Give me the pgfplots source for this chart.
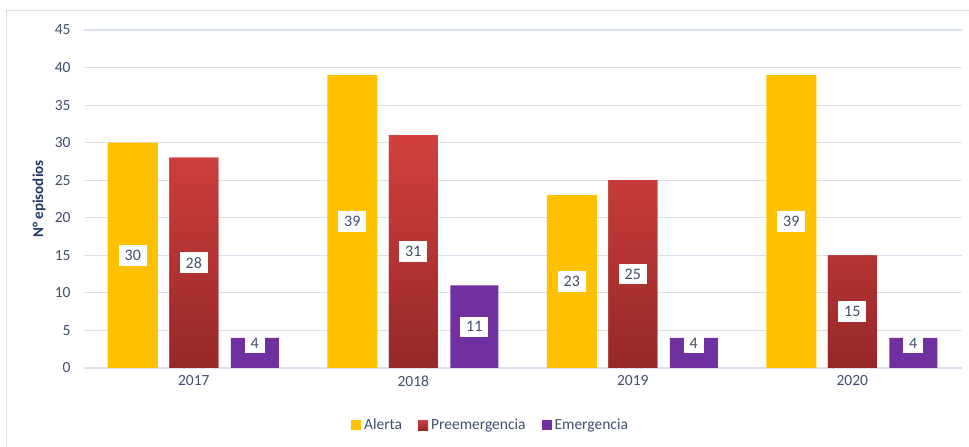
\documentclass[border=0pt]{standalone}
\usepackage{fontspec}
\setmainfont{Carlito}
\usepackage{pgfplots}
\pgfplotsset{compat=1.18}
\definecolor{cAl}{RGB}{255,192,0}
\definecolor{cPreT}{RGB}{210,64,62}
\definecolor{cPreB}{RGB}{150,40,40}
\definecolor{cPre}{RGB}{180,48,46}
\definecolor{cEm}{RGB}{112,48,160}
\definecolor{ctext}{RGB}{64,78,110}
\definecolor{cnavy}{RGB}{31,56,100}
\definecolor{cgrid}{RGB}{217,225,238}
\definecolor{cframe}{RGB}{214,222,234}
\begin{document}
\begin{tikzpicture}[x=1pt,y=1pt]
\path[use as bounding box] (0,0) rectangle (969,447);
\draw[cframe, line width=1pt] (6,0) -- (6,436) -- (969,436);
\begin{axis}[
  at={(84pt,79pt)}, anchor=south west,
  scale only axis, width=878pt, height=338pt,
  xmin=-0.5, xmax=3.5, ymin=0, ymax=45,
  xtick={0,1,2,3}, xticklabels={2017,2018,2019,2020},
  ytick={0,5,...,45},
  ymajorgrids, grid style={cgrid, line width=1.2pt},
  axis x line*=bottom, axis y line*=left,
  x axis line style={cgrid, line width=1.2pt, -},
  y axis line style={draw=none},
  major tick length=0pt,
  /pgf/number format/assume math mode=true,
  tick label style={font=\fontsize{15.5}{18}\selectfont, text=ctext},
  yticklabel style={xshift=-10pt},
  xticklabel style={yshift=-4pt},
  ylabel={N° episodios},
  ylabel style={font=\fontsize{15}{18}\selectfont\bfseries, text=cnavy, at={(axis description cs:-0.0513,0.5)}, anchor=center},
  legend columns=3,
  legend style={draw=none, fill=none, at={(0.463,-0.169)}, anchor=center,
    font=\fontsize{15.5}{18}\selectfont, text=ctext,
    /tikz/every even column/.append style={column sep=14pt},
    /tikz/every odd column/.append style={column sep=1pt}},
  legend image code/.code={\fill[#1] (0pt,-5pt) rectangle (10pt,5pt);},
]
\addplot[ybar, bar width=50pt, bar shift=-61pt, draw=none, fill=cAl]
  coordinates {(0,30) (1,39) (2,23) (3,39)};
\addlegendentry{Alerta}
\addplot[ybar, bar width=49pt, bar shift=0pt, draw=none, fill=cPre, top color=cPreT, bottom color=cPreB]
  coordinates {(0,28) (1,31) (2,25) (3,15)};
\addlegendentry{Preemergencia}
\addplot[ybar, bar width=48pt, bar shift=61pt, draw=none, fill=cEm]
  coordinates {(0,4) (1,11) (2,4) (3,4)};
\addlegendentry{Emergencia}
\pgfplotsset{lbl/.style={forget plot, draw=none, mark=none, nodes near coords, point meta=explicit symbolic,
  nodes near coords style={fill=white, text=ctext, anchor=center, font=\fontsize{16}{18}\selectfont,
  inner xsep=6pt, inner ysep=5pt, xshift=#1}}}
\addplot[lbl=-61pt] coordinates {(0,15)[30] (1,19.5)[39] (2,11.5)[23] (3,19.5)[39]};
\addplot[lbl=0pt] coordinates {(0,14)[28] (1,15.5)[31] (2,12.5)[25] (3,7.5)[15]};
\addplot[lbl=61pt] coordinates {(0,3.3)[4] (1,5.5)[11] (2,3.3)[4] (3,3.3)[4]};
\end{axis}
\end{tikzpicture}
\end{document}
